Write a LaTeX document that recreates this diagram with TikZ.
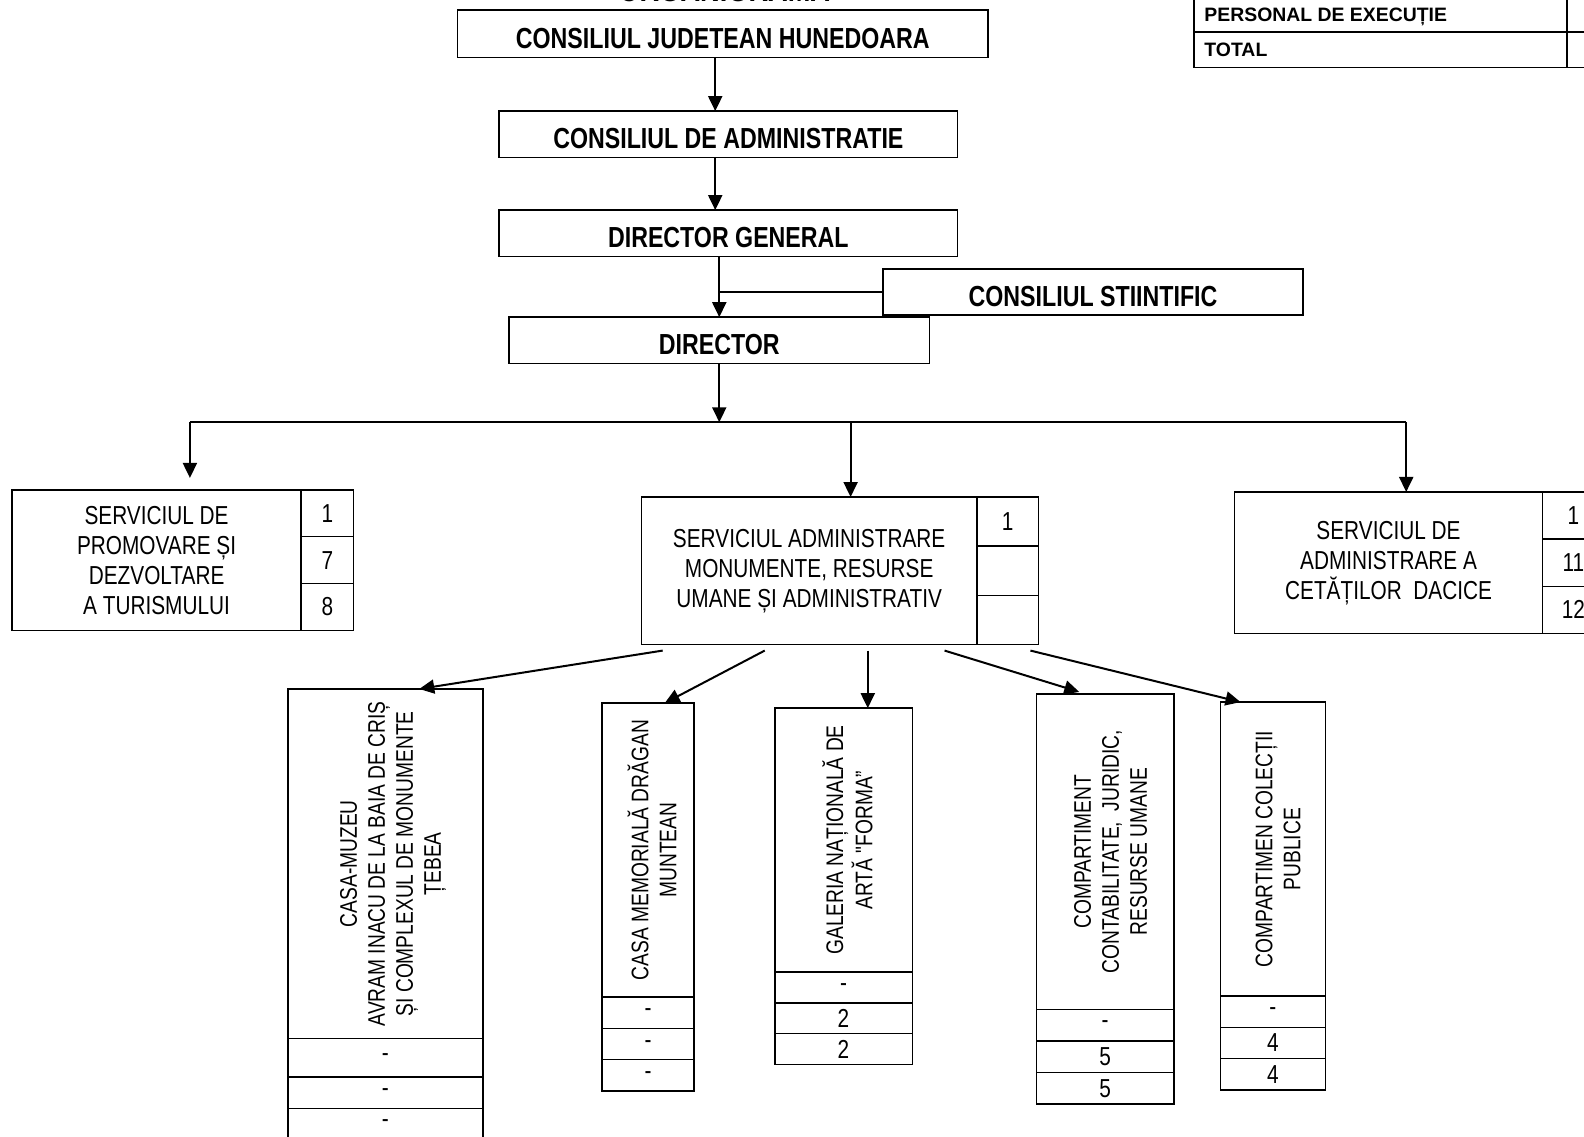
\documentclass[tikz,border=0pt]{standalone}
\usepackage{fontspec}
\usepackage{graphicx}
\setmainfont{Liberation Sans}
\newfontfamily\narrowfont[FakeStretch=0.8]{Liberation Sans}
\usetikzlibrary{arrows.meta,positioning}
\newlength\px
\setlength\px{0.5051pt}
\newcommand\vtext[1]{\hspace*{8pt}\rotatebox{90}{\begin{tabular}{@{}c@{}}#1\end{tabular}}}

\begin{document}
\begin{tikzpicture}[x=0.5051pt, y=-0.5051pt,
  sz/.style 2 args={minimum width=#1*\px, minimum height=#2*\px},
  hbox/.style={draw, line width=0.8pt, inner sep=0pt, outer sep=0pt,
    text height=14.4pt, text depth=0pt,
    font=\narrowfont\bfseries\fontsize{14.5}{17}\selectfont},
  sbox/.style={draw, line width=0.7pt, inner sep=0pt, outer sep=0pt, align=center,
    font=\narrowfont\fontsize{13}{15}\selectfont},
  vbox/.style={draw, line width=0.7pt, inner sep=0pt, outer sep=0pt,
    font=\narrowfont\fontsize{12}{14}\selectfont},
  cell/.style={draw, line width=0.7pt, inner sep=0pt, outer sep=0pt, anchor=north west,
    font=\narrowfont\fontsize{13}{15}\selectfont},
  tcell/.style={draw, line width=0.7pt, inner sep=0pt, outer sep=0pt},
  ttext/.style={anchor=west, inner sep=0pt, font=\bfseries\fontsize{9.7}{11}\selectfont},
  arr/.style={line width=1pt, -{Triangle[length=7.5pt,width=7pt]}},
  link/.style={line width=1pt}
]
\fill[white] (0,0) rectangle (1568,1125);
\useasboundingbox (0,0) rectangle (1568,1125);

% ── Title and staff table ─────────────────────────
\node[font=\narrowfont\bfseries\fontsize{17}{20}\selectfont, anchor=base, inner sep=0pt]
  (ttl) at (717,1) {ORGANIGRAMA};
\node[tcell, sz={369}{36.5}, anchor=south west] (pe) at (1182,31.5) {};
\node[tcell, sz={70}{36.5}, anchor=south west] (pev) at (1551,31.5) {};
\node[tcell, sz={369}{35.5}, anchor=north west] (tot) at (1182,31.5) {};
\node[tcell, sz={70}{35.5}, anchor=north west] (totv) at (1551,31.5) {};
\node[ttext] (pet) at ([xshift=5pt,yshift=-1.5pt]pe.west) {PERSONAL DE EXECUȚIE};
\node[ttext] (tott) at ([xshift=5pt]tot.west) {TOTAL};

% ── Management chain ──────────────────────────────
\node[hbox, sz={525}{47}] (cjh) at (715.5,33.5) {CONSILIUL JUDETEAN HUNEDOARA};
\node[hbox, sz={454}{46}] (cda) at (721,133) {CONSILIUL DE ADMINISTRATIE};
\node[hbox, sz={454}{46}] (dg) at (721,231) {DIRECTOR GENERAL};
\node[hbox, sz={416}{46}] (cs) at (1082,289) {CONSILIUL STIINTIFIC};
\node[hbox, sz={416}{46}] (dir) at (712,337) {DIRECTOR};

\coordinate (ax1) at (708,0);
\coordinate (ax2) at (712,0);
\draw[arr] (cjh.south -| ax1) -- (cda.north -| ax1);
\draw[arr] (cda.south -| ax1) -- (dg.north -| ax1);
\draw[arr] (dg.south -| ax2) -- (dir.north -| ax2);
\draw[link] (cs.west) -- (cs.west -| ax2);

% ── Services ──────────────────────────────────────
\node[sbox, sz={286}{139}] (spt) at (155,554.5)
  {SERVICIUL DE\\PROMOVARE ȘI\\DEZVOLTARE\\A TURISMULUI};
\foreach \v [count=\i] in {1,7,8}
  \node[cell, sz={52}{46.33}] (spt\i) at (298,{485+(\i-1)*46.33}) {\v};

\node[sbox, sz={332}{146}] (sam) at (801,565)
  {SERVICIUL ADMINISTRARE\\MONUMENTE, RESURSE\\UMANE ȘI ADMINISTRATIV};
\foreach \v [count=\i] in {1,{},{}}
  \node[cell, sz={61}{48.67}] (sam\i) at (967,{492+(\i-1)*48.67}) {\v};

\node[sbox, sz={305}{140}] (sac) at (1374.5,557)
  {SERVICIUL DE\\ADMINISTRARE A\\CETĂȚILOR~ DACICE};
\foreach \v [count=\i] in {1,11,12}
  \node[cell, sz={61}{46.67}] (sac\i) at (1527,{487+(\i-1)*46.67}) {\v};

\coordinate (bl) at (188,418);
\coordinate (bm) at (842,418);
\coordinate (bus) at (712,418);
\coordinate (br) at (1392,418);
\draw[arr] (dir.south -| bus) -- (bus);
\draw[link] (bl) -- (br);
\draw[arr, shorten >=6pt] (bl) -- (spt.north -| bl);
\draw[arr] (bm) -- (sam.north -| bm);
\draw[arr] (br) -- (sac.north -| br);

% ── Compartments ──────────────────────────────────
\node[vbox, sz={193}{346}] (muz) at (381.5,855)
  {\vtext{CASA-MUZEU\\AVRAM INACU DE LA BAIA DE CRIȘ\\ȘI COMPLEXUL DE MONUMENTE\\ȚEBEA}};
\node[cell, sz={193}{38}] (muz1) at (muz.south west) {-};
\node[cell, sz={193}{31}] (muz2) at (muz1.south west) {-};
\node[cell, sz={193}{31}] (muz3) at (muz2.south west) {-};

\node[vbox, sz={91}{291}] (mem) at (641.5,841.5)
  {\vtext{CASA MEMORIALĂ DRĂGAN\\MUNTEAN}};
\foreach \v [count=\i] in {-,-,-}
  \node[cell, sz={91}{31}] (mem\i) at (596,{987+(\i-1)*31}) {\v};

\node[vbox, sz={136}{261}] (gal) at (835,831.5)
  {\vtext{GALERIA NAȚIONALĂ DE\\ARTĂ "FORMA”}};
\foreach \v [count=\i] in {-,2,2}
  \node[cell, sz={136}{30.67}] (gal\i) at (767,{962+(\i-1)*30.67}) {\v};

\node[vbox, sz={136}{312}] (ccj) at (1094,843)
  {\vtext{COMPARTIMENT\\CONTABILITATE,~ JURIDIC,\\RESURSE UMANE}};
\foreach \v [count=\i] in {-,5,5}
  \node[cell, sz={136}{31.33}] (ccj\i) at (1026,{999+(\i-1)*31.33}) {\v};

\node[vbox, sz={104}{291}] (col) at (1260,840.5)
  {\vtext{COMPARTIMEN COLECȚII\\PUBLICE}};
\foreach \v [count=\i] in {-,4,4}
  \node[cell, sz={104}{31}] (col\i) at (1208,{986+(\i-1)*31}) {\v};

\coordinate (o1) at (656,644);
\coordinate (o2) at (757,644);
\coordinate (o3) at (859,644);
\coordinate (o4) at (935,644);
\coordinate (o5) at (1020,644);
\coordinate (e1) at (415,0);
\coordinate (e2) at (658,0);
\coordinate (e3) at (859,0);
\coordinate (e4) at (1075,0);
\coordinate (e5) at (1228,0);
\draw[arr] (o1) -- (muz.north -| e1);
\draw[arr] (o2) -- (mem.north -| e2);
\draw[arr] (o3) -- (gal.north -| e3);
\draw[arr, shorten >=3.5pt] (o4) -- (ccj.north -| e4);
\draw[arr] (o5) -- (col.north -| e5);
\end{tikzpicture}
\end{document}
